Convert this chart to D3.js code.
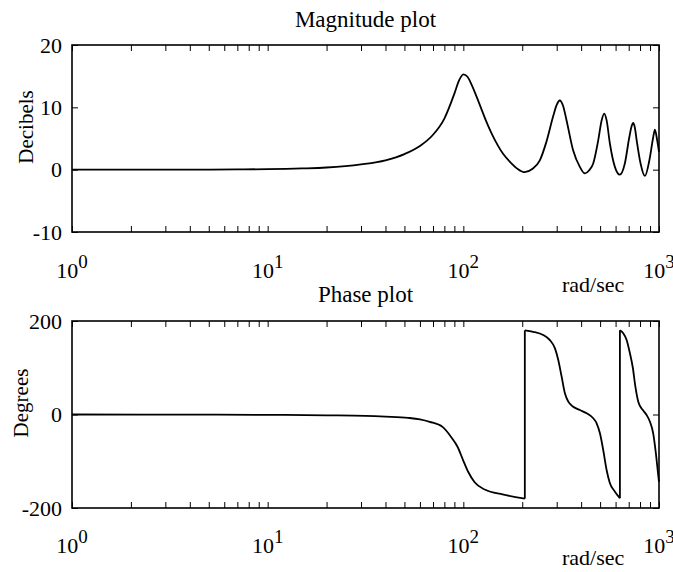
<!DOCTYPE html>
<html><head><meta charset="utf-8">
<script src="https://cdn.jsdelivr.net/npm/d3@7"></script>
<style>
body{margin:0;background:#fff}
svg{display:block}
text{font-family:"Liberation Serif","Times New Roman",serif;fill:#000}
</style>
</head><body>
<svg id="c" width="673" height="572"></svg>
<script>
// ---- data ----
const magFreq = [1, 2, 4, 7, 10, 15, 20, 30, 40, 50, 60, 70, 80, 90, 95, 100, 105, 110, 120, 130, 140, 150, 160, 175, 190, 206, 225, 246, 266, 288, 300, 311, 323, 337, 364, 394, 418, 440, 461, 489, 509, 525, 540, 561, 595, 631, 669, 705, 725, 738, 752, 769, 805, 847, 899, 934, 953, 979, 1000];
const magDb   = [0, 0, 0.01, 0.04, 0.08, 0.2, 0.35, 0.85, 1.5, 2.5, 3.8, 5.6, 8.2, 12.2, 14.3, 15.3, 14.9, 13.7, 10.8, 8.0, 5.7, 3.9, 2.5, 1.1, 0.1, -0.4, 0.1, 1.5, 4.5, 8.6, 10.4, 11.1, 10.3, 7.9, 3.1, 0.45, -0.6, -0.1, 1.0, 4.7, 7.9, 9.0, 7.9, 4.2, 0.45, -0.8, 1.0, 5.2, 7.0, 7.5, 6.8, 4.7, 1.0, -1.0, 2.0, 5.2, 6.4, 4.7, 2.85];

// phase: a repeated frequency marks a wrap-around jump
const phaseFreq = [1, 5, 10, 20, 31.6, 40, 52.3, 60, 67.3, 78.3, 86.6, 93.4, 99.8, 106, 114.2, 129.5, 158.6, 206.2,
                   206.2, 227.6, 256, 277, 294, 305.6, 318, 330.5, 344, 364.4, 394.2, 426.6, 461.2, 480, 499, 518.7, 539.8, 561.2, 595.3, 631.3,
                   631.3, 656.4, 683.2, 710.2, 735, 757, 785, 825, 864, 899, 934, 964, 990, 1000];
const phaseDeg  = [0, -0.3, -0.7, -1.8, -2.9, -4.5, -7.2, -10.5, -15.7, -26.5, -48, -69, -98, -123, -145, -161, -171, -180,
                   180, 177, 170, 159, 141.5, 116.6, 80.9, 45.3, 27.4, 16.7, 9.6, 2.6, -8.1, -18.8, -40.2, -75.9, -118.7, -147, -165, -179,
                   180, 173.7, 159.4, 131, 100, 60, 26, 10, -1, -15.4, -40.2, -83, -128, -144];

const xTickMajors = [1, 10, 100, 1000];
const xTickExps = ["0", "1", "2", "3"];
const magYTicks = [-10, 0, 10, 20];
const phaseYTicks = [-200, 0, 200];
const xUnit = "rad/sec";

// ---- layout ----
const svg = d3.select("#c");
const x = d3.scaleLog().domain([1, 1000]).range([72, 659]);
const yMag = d3.scaleLinear().domain([-10, 20]).range([232, 45]);
const yPh = d3.scaleLinear().domain([-200, 200]).range([508, 321]);

const minorVals = [];
[1, 10, 100].forEach(d => { for (let k = 1; k <= 9; k++) minorVals.push(d * k); });
minorVals.push(1000);

function panel(y, yTicks, title, titleY, ylabel, ylabelX, ylabelY, labBase, unitBase) {
  const g = svg.append("g");
  const [y0, y1] = y.range(); // bottom, top
  const tk = 6;
  const styleAxis = sel => { sel.select(".domain").remove(); sel.selectAll("line").attr("stroke", "#000").attr("stroke-width", 1); };
  g.append("g").attr("transform", `translate(0,${y0})`)
    .call(d3.axisBottom(x).tickValues(minorVals).tickSizeInner(-tk).tickSizeOuter(0).tickFormat(""))
    .call(styleAxis);
  g.append("g").attr("transform", `translate(0,${y1})`)
    .call(d3.axisTop(x).tickValues(minorVals).tickSizeInner(-tk).tickSizeOuter(0).tickFormat(""))
    .call(styleAxis);
  g.append("g").attr("transform", `translate(${x.range()[0]},0)`)
    .call(d3.axisLeft(y).tickValues(yTicks).tickSizeInner(-tk).tickSizeOuter(0).tickFormat(""))
    .call(styleAxis);
  g.append("g").attr("transform", `translate(${x.range()[1]},0)`)
    .call(d3.axisRight(y).tickValues(yTicks).tickSizeInner(-tk).tickSizeOuter(0).tickFormat(""))
    .call(styleAxis);
  g.append("rect").attr("x", x.range()[0]).attr("y", y1)
    .attr("width", x.range()[1] - x.range()[0]).attr("height", y0 - y1)
    .attr("fill", "none").attr("stroke", "#000").attr("stroke-width", 1.6);
  yTicks.forEach(v => {
    g.append("text").attr("x", 62).attr("y", y(v) + 7.5)
      .attr("text-anchor", "end").attr("font-size", 22).text(v);
  });
  xTickMajors.forEach((v, i) => {
    const t = g.append("text").attr("x", x(v)).attr("y", labBase)
      .attr("text-anchor", "middle").attr("font-size", 22);
    t.append("tspan").text("10");
    t.append("tspan").attr("dy", -10).attr("font-size", 19).text(xTickExps[i]);
  });
  g.append("text").attr("x", 562).attr("y", unitBase).attr("font-size", 22).text(xUnit);
  g.append("text").attr("x", (x.range()[0] + x.range()[1]) / 2).attr("y", titleY)
    .attr("text-anchor", "middle").attr("font-size", 23).text(title);
  g.append("text").attr("transform", `translate(${ylabelX},${ylabelY}) rotate(-90)`)
    .attr("text-anchor", "middle").attr("font-size", 21).text(ylabel);
  return g;
}

const gMag = panel(yMag, magYTicks, "Magnitude plot", 27, "Decibels", 33, 127, 278, 292);
const gPh = panel(yPh, phaseYTicks, "Phase plot", 302, "Degrees", 28, 403, 553, 565);

const magData = magFreq.map((f, i) => [f, magDb[i]]);
gMag.append("path").datum(magData)
  .attr("fill", "none").attr("stroke", "#000").attr("stroke-width", 1.8)
  .attr("d", d3.line().x(d => x(d[0])).y(d => yMag(d[1])).curve(d3.curveMonotoneX));

const phData = phaseFreq.map((f, i) => [f, phaseDeg[i]]);
const segs = [[phData[0]]];
const jumps = [];
for (let i = 1; i < phData.length; i++) {
  if (phData[i][0] === phData[i - 1][0]) { jumps.push([phData[i - 1], phData[i]]); segs.push([phData[i]]); }
  else segs[segs.length - 1].push(phData[i]);
}
const phLine = d3.line().x(d => x(d[0])).y(d => yPh(d[1])).curve(d3.curveMonotoneX);
const jLine = d3.line().x(d => x(d[0])).y(d => yPh(d[1]));
segs.forEach(s => gPh.append("path").datum(s).attr("fill", "none").attr("stroke", "#000").attr("stroke-width", 1.8).attr("d", phLine));
jumps.forEach(j => gPh.append("path").datum(j).attr("fill", "none").attr("stroke", "#000").attr("stroke-width", 1.8).attr("d", jLine));
</script>
</body></html>
